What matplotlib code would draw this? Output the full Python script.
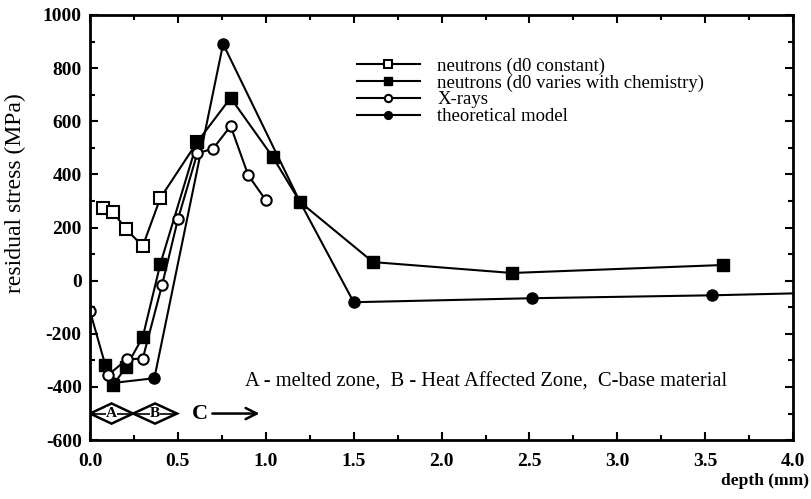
import matplotlib.pyplot as plt
import numpy as np
from matplotlib.patches import Polygon

plt.rcParams['font.family'] = ['Liberation Serif', 'DejaVu Serif']
plt.rcParams['axes.unicode_minus'] = False

# neutrons (d0 constant)
x_nc = [0.074, 0.131, 0.205, 0.30, 0.40, 0.61]
y_nc = [273, 258, 194, 130, 311, 522]

# neutrons (d0 varies with chemistry)
x_nv = [0.085, 0.131, 0.205, 0.30, 0.40, 0.61, 0.80, 1.04, 1.195, 1.61, 2.40, 3.60]
y_nv = [-317, -393, -325, -212, 63, 522, 688, 465, 296, 70, 29, 59]

# X-rays
x_xr = [0.0, 0.103, 0.21, 0.30, 0.41, 0.50, 0.61, 0.70, 0.80, 0.90, 1.0]
y_xr = [-115, -355, -296, -293, -16, 231, 479, 497, 582, 397, 303]

# theoretical model
x_th = [0.13, 0.366, 0.757, 1.195, 1.50, 2.515, 3.54, 4.5]
y_th = [-385, -367, 891, 296, -81, -66, -55, -40]

labels = ["neutrons (d0 constant)", "neutrons (d0 varies with chemistry)",
          "X-rays", "theoretical model"]

# zones A (melted) and B (heat affected), C base material arrow
zone_edges = [0.0, 0.245, 0.495]
zone_names = ["A", "B"]
zone_y = -500
zone_h = 38

fig = plt.figure(figsize=(8.11, 4.99), dpi=100)
ax = fig.add_axes([0.111, 0.118, 0.867, 0.852])

lw = 1.5
th, = ax.plot(x_th, y_th, '-o', color='black', lw=lw, ms=8, mfc='black')
nc, = ax.plot(x_nc, y_nc, '-s', color='black', lw=lw, ms=8, mfc='white', mew=1.5)
nv, = ax.plot(x_nv, y_nv, '-s', color='black', lw=lw, ms=9, mfc='black')
xr, = ax.plot(x_xr, y_xr, '-o', color='black', lw=lw, ms=7.5, mfc='white', mew=1.5)

ax.legend([nc, nv, xr, th], labels, loc='upper left', bbox_to_anchor=(0.355, 0.94),
          frameon=False, fontsize=13.5, handlelength=3.4, labelspacing=-0.02,
          handletextpad=0.9, markerscale=0.7)

# zone diamonds
for i, name in enumerate(zone_names):
    x0, x1 = zone_edges[i], zone_edges[i + 1]
    xc = (x0 + x1) / 2
    pts = np.array([[x0, zone_y], [xc, zone_y + zone_h], [x1, zone_y], [xc, zone_y - zone_h]])
    ax.add_patch(Polygon(pts, closed=True, fill=False, ec='black', lw=1.8))
    ax.plot([x0, x1], [zone_y, zone_y], color='black', lw=1.2)
    ax.text(xc, zone_y, name, ha='center', va='center', fontsize=11, fontweight='bold',
            bbox=dict(fc='white', ec='none', pad=0.2))

ax.text(0.58, zone_y, "C", ha='left', va='center', fontsize=16, fontweight='bold')
ax.annotate('', xy=(0.98, zone_y), xytext=(0.68, zone_y),
            arrowprops=dict(arrowstyle='->,head_length=0.8,head_width=0.4', lw=1.8, color='black'))

ax.text(0.88, -383, "A - melted zone,  B - Heat Affected Zone,  C-base material",
        ha='left', va='center', fontsize=14.8)

ax.set_xlim(0, 4.0)
ax.set_ylim(-600, 1000)
ax.set_xticks(np.arange(0, 4.01, 0.5))
ax.set_xticks(np.arange(0, 4.01, 0.25), minor=True)
ax.set_yticks(np.arange(-600, 1001, 200))
ax.set_yticks(np.arange(-600, 1001, 100), minor=True)
ax.set_xticklabels(["0.0", "0.5", "1.0", "1.5", "2.0", "2.5", "3.0", "3.5", "4.0"])
ax.tick_params(which='both', direction='in', top=True, right=True, width=1.5)
ax.tick_params(which='major', length=6, labelsize=14, pad=6)
ax.tick_params(axis='x', which='major', pad=9)
ax.tick_params(which='minor', length=3.5)
for lab in ax.get_xticklabels() + ax.get_yticklabels():
    lab.set_fontweight('bold')
for s in ax.spines.values():
    s.set_linewidth(2)

ax.set_ylabel("residual stress (MPa)", fontsize=17)
ax.yaxis.set_label_coords(-0.091, 0.58)
fig.text(0.998, 0.02, "depth (mm)", ha='right', va='bottom', fontsize=12.5, fontweight='bold')

fig.savefig("out.png", dpi=100)
